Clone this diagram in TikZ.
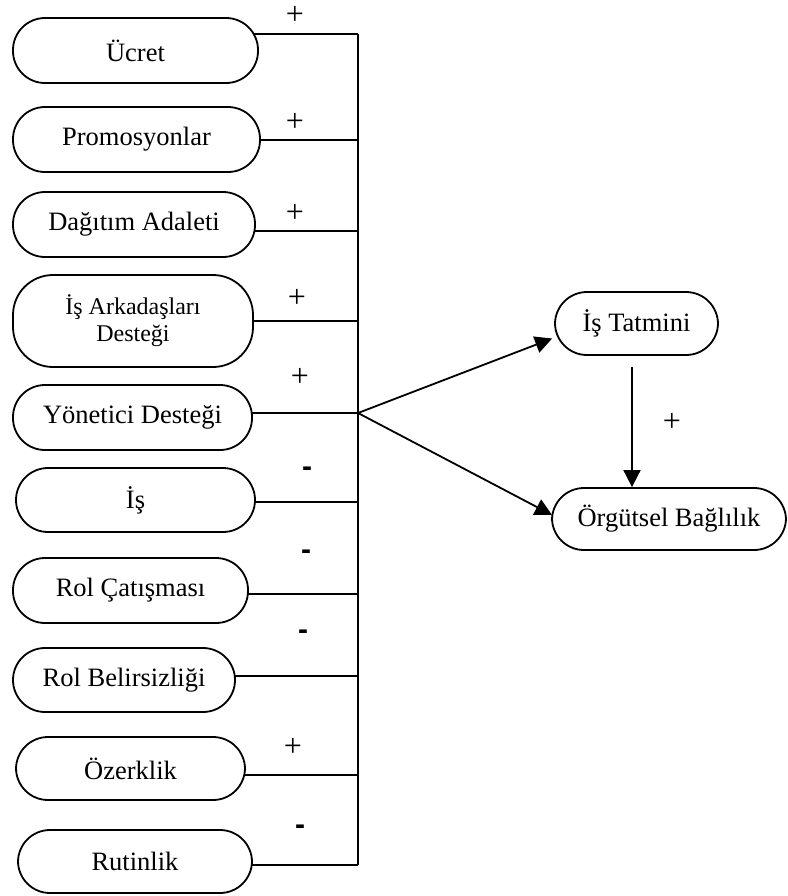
\documentclass[tikz,border=0pt]{standalone}
\usepackage{fontspec}
\setmainfont{Liberation Serif}
\newfontfamily\signfont{Liberation Sans}
\usetikzlibrary{arrows.meta,calc,backgrounds}
\begin{document}
\begin{tikzpicture}[x=0.5pt,y=-0.5pt,
  box/.style={draw,line width=0.9pt,fill=white,rounded corners=16pt,inner sep=0pt,
    align=center,minimum height=32.5pt,font=\fontsize{13.25}{15}\selectfont},
  conn/.style={line width=0.9pt},
  arr/.style={line width=0.9pt,-{Triangle[length=8.5pt,width=8.5pt]}},
  plus/.style={inner sep=0pt,font=\fontsize{16}{18}\selectfont},
  minus/.style={inner sep=0pt,font=\signfont\bfseries\fontsize{15}{16}\selectfont}]
\useasboundingbox (0,0) rectangle (788,896);
% left boxes
\node[box,minimum width=122.5pt] (u) at (135.5,50.5) {Ücret};
\node[box,minimum width=123.5pt] (p) at (136.5,139.5) {Promosyonlar};
\node[box,minimum width=121pt] (d) at (134,224.5) {Dağıtım Adaleti};
\node[box,minimum width=120pt,minimum height=46pt,rounded corners=20pt,
      font=\fontsize{12}{13.5}\selectfont] (ia) at (133,321) {İş Arkadaşları\\Desteği};
\node[box,minimum width=119.5pt] (y) at (132.5,417.5) {Yönetici Desteği};
\node[box,minimum width=119.5pt,minimum height=32pt] (is) at (135.5,500) {İş};
\node[box,minimum width=117.5pt] (rc) at (130.5,590.5) {Rol Çatışması};
\node[box,minimum width=111pt,minimum height=32pt] (rb) at (124,680) {Rol Belirsizliği};
\node[box,minimum width=114.5pt,minimum height=31.5pt] (oz) at (130.5,768.5) {Özerklik};
\node[box,minimum width=117pt,minimum height=31.5pt] (ru) at (135,861.5) {Rutinlik};
% right boxes
\node[box,minimum width=81.5pt,minimum height=31.5pt] (it) at (636.5,323.5) {İş Tatmini};
\node[box,minimum width=117pt,minimum height=31pt] (ob) at (669,519) {Örgütsel Bağlılık};
% bus coordinates
\coordinate (b1) at (358,34);
\coordinate (b2) at (358,140);
\coordinate (b3) at (358,231);
\coordinate (b4) at (358,321);
\coordinate (b5) at (358,413);
\coordinate (b6) at (358,502);
\coordinate (b7) at (358,594);
\coordinate (b8) at (358,676);
\coordinate (b9) at (358,775);
\coordinate (b10) at (358,865);
\begin{pgfonlayer}{background}
\draw[conn] (u.center |- b1) -- (b1);
\draw[conn] (p.center |- b2) -- (b2);
\draw[conn] (d.center |- b3) -- (b3);
\draw[conn] (ia.center |- b4) -- (b4);
\draw[conn] (y.center |- b5) -- (b5);
\draw[conn] (is.center |- b6) -- (b6);
\draw[conn] (rc.center |- b7) -- (b7);
\draw[conn] (rb.center |- b8) -- (b8);
\draw[conn] (oz.center |- b9) -- (b9);
\draw[conn] (ru.center |- b10) -- (b10);
\end{pgfonlayer}
\draw[conn] (b1) -- (b10);
% arrows
\draw[arr] (b5) -- ($(it.west)+(-2,15)$);
\draw[arr] (b5) -- ($(ob.west)+(1,-4)$);
\coordinate (vs) at ($(it.south)+(-4.5,11)$);
\draw[arr] (vs) -- (vs |- ob.north);
% signs
\node[plus] (s1) at (295,15) {+};
\node[plus] (s2) at (295,122) {+};
\node[plus] (s3) at (295,213) {+};
\node[plus] (s4) at (297,298) {+};
\node[plus] (s5) at (300,377) {+};
\node[minus] (s6) at (307,472) {-};
\node[minus] (s7) at (306,555) {-};
\node[minus] (s8) at (303,635) {-};
\node[plus] (s9) at (293,747) {+};
\node[minus] (s10) at (300,830) {-};
\node[plus] (s11) at (672,422) {+};
\end{tikzpicture}
\end{document}
